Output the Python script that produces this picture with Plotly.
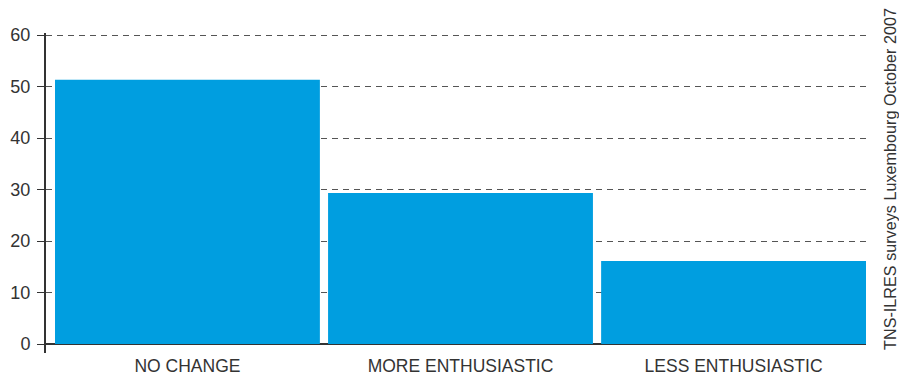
import plotly.graph_objects as go

categories = ["NO CHANGE", "MORE ENTHUSIASTIC", "LESS ENTHUSIASTIC"]
values = [51.3, 29.3, 16.1]
y_ticks = [0, 10, 20, 30, 40, 50, 60]
source_note = "TNS-ILRES surveys Luxembourg October 2007"

BAR_BLUE = "#009EE0"
INK = "#333333"
FONT = "Liberation Sans"

fig = go.Figure(
    go.Bar(
        x=list(range(len(categories))),
        y=values,
        width=0.97,
        marker=dict(color=BAR_BLUE, line=dict(width=0)),
    )
)

fig.update_layout(
    width=899,
    height=378,
    margin=dict(l=46, r=33, t=33, b=25),
    paper_bgcolor="white",
    plot_bgcolor="white",
    showlegend=False,
    font=dict(family=FONT, size=17, color=INK),
    annotations=[
        dict(
            text=source_note,
            xref="paper", yref="paper",
            x=1.0, y=0.544,
            xanchor="left", yanchor="middle",
            xshift=13,
            textangle=-90,
            showarrow=False,
            font=dict(family=FONT, size=16.2, color=INK),
        )
    ],
)

fig.update_xaxes(
    range=[-0.518, 2.485],
    tickmode="array",
    tickvals=list(range(len(categories))),
    ticktext=categories,
    showgrid=False,
    showline=False,
    zeroline=False,
    ticks="",
    automargin=False,
    tickfont=dict(size=17.5),
)

fig.update_yaxes(
    range=[-1.748, 60.39],
    tickmode="array",
    tickvals=y_ticks,
    showgrid=True,
    gridcolor="#555555",
    gridwidth=1,
    griddash="6px,5px",
    showline=True,
    linecolor=INK,
    linewidth=2,
    zeroline=True,
    zerolinecolor=INK,
    zerolinewidth=2,
    ticks="outside",
    ticklen=7,
    tickwidth=1,
    tickcolor=INK,
    ticklabelstandoff=3,
    automargin=False,
    tickfont=dict(size=18),
)

fig.write_html("out.html")
